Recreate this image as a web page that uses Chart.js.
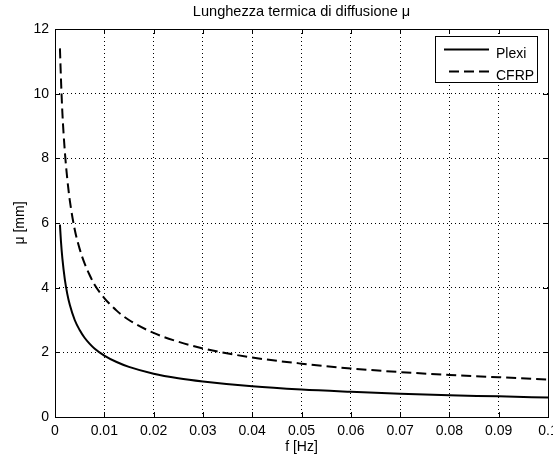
<!DOCTYPE html>
<html><head><meta charset="utf-8">
<script src="https://cdn.jsdelivr.net/npm/chart.js@4/dist/chart.umd.min.js"></script>
<style>html,body{margin:0;padding:0;background:#fff}#wrap{width:553px;height:462px}</style>
</head><body><div id="wrap"><canvas id="c" width="553" height="462"></canvas></div>
<script>
const titleText = 'Lunghezza termica di diffusione μ';
const xLabel = 'f [Hz]';
const yLabel = 'μ [mm]';
const seriesNames = ['Plexi', 'CFRP'];
const freq  = [0.001,0.0012,0.0015,0.002,0.0025,0.003,0.004,0.005,0.006,0.007,0.008,0.01,0.0125,0.015,0.02,0.025,0.03,0.04,0.05,0.06,0.07,0.08,0.09,0.1];
const plexi = [5.95,5.45,4.9,4.25,3.8,3.47,3.0,2.69,2.45,2.27,2.12,1.9,1.7,1.55,1.34,1.2,1.1,0.95,0.85,0.78,0.72,0.67,0.64,0.6];
const cfrp  = [11.4,10.5,9.4,8.2,7.35,6.7,5.8,5.2,4.75,4.4,4.1,3.68,3.29,3.0,2.6,2.33,2.12,1.84,1.65,1.5,1.39,1.3,1.23,1.16];
const xTicks = [0,0.01,0.02,0.03,0.04,0.05,0.06,0.07,0.08,0.09,0.1];
const yTicks = [0,2,4,6,8,10,12];

const FONT = '"Liberation Sans", Arial, sans-serif';
const FS = 14;

const decor = {
  id: 'decor',
  afterDatasetsDraw(chart) {
    const {ctx, chartArea: a, scales: {x, y}} = chart;
    ctx.save();
    ctx.strokeStyle = '#000';
    ctx.lineWidth = 1;
    ctx.strokeRect(Math.round(a.left) + 0.5, Math.round(a.top) + 0.5, Math.round(a.right - a.left), Math.round(a.bottom - a.top));
    ctx.beginPath();
    xTicks.forEach(v => {
      const px = Math.round(x.getPixelForValue(v)) + 0.5;
      ctx.moveTo(px, a.bottom); ctx.lineTo(px, a.bottom - 5);
      ctx.moveTo(px, a.top); ctx.lineTo(px, a.top + 5);
    });
    yTicks.forEach(v => {
      const py = Math.round(y.getPixelForValue(v)) + 0.5;
      ctx.moveTo(a.left, py); ctx.lineTo(a.left + 5, py);
      ctx.moveTo(a.right, py); ctx.lineTo(a.right - 5, py);
    });
    ctx.stroke();
    ctx.restore();
  },
  afterDraw(chart) {
    const {ctx, chartArea: a} = chart;
    ctx.save();
    ctx.fillStyle = '#000';
    ctx.font = '14.6px ' + FONT;
    ctx.textAlign = 'center';
    ctx.textBaseline = 'middle';
    ctx.fillText(titleText, (a.left + a.right) / 2, 12);
    ctx.font = FS + 'px ' + FONT;
    ctx.fillText(xLabel, (a.left + a.right) / 2, 447);
    ctx.save();
    ctx.translate(20, (a.top + a.bottom) / 2);
    ctx.rotate(-Math.PI / 2);
    ctx.fillText(yLabel, 0, 0);
    ctx.restore();
    // legend
    const lx = 435, ly = 36, lw = 102, lh = 46;
    ctx.fillStyle = '#fff';
    ctx.fillRect(lx, ly, lw, lh);
    ctx.strokeStyle = '#000';
    ctx.lineWidth = 1;
    ctx.strokeRect(lx + 0.5, ly + 0.5, lw, lh);
    ctx.lineWidth = 2;
    ctx.beginPath(); ctx.moveTo(444, 49.5); ctx.lineTo(489, 49.5); ctx.stroke();
    ctx.setLineDash([10, 5]);
    ctx.beginPath(); ctx.moveTo(449, 71.5); ctx.lineTo(489, 71.5); ctx.stroke();
    ctx.setLineDash([]);
    ctx.fillStyle = '#000';
    ctx.textAlign = 'left';
    ctx.textBaseline = 'alphabetic';
    ctx.font = FS + 'px ' + FONT;
    ctx.fillText(seriesNames[0], 496, 58);
    ctx.fillText(seriesNames[1], 496, 80);
    ctx.restore();
  }
};

const fmt = v => String(Number(v.toFixed(3)));

new Chart(document.getElementById('c'), {
  type: 'line',
  data: {
    datasets: [
      { label: seriesNames[0], data: freq.map((f, i) => ({x: f, y: plexi[i]})), borderColor: '#000', borderWidth: 2, pointRadius: 0, cubicInterpolationMode: 'monotone', fill: false },
      { label: seriesNames[1], data: freq.map((f, i) => ({x: f, y: cfrp[i]})), borderColor: '#000', borderWidth: 2, borderDash: [10, 5], pointRadius: 0, cubicInterpolationMode: 'monotone', fill: false }
    ]
  },
  options: {
    responsive: false,
    animation: false,
    layout: { padding: { top: 29, right: 5, left: 0, bottom: 0 } },
    plugins: { legend: { display: false }, title: { display: false }, tooltip: { enabled: false } },
    scales: {
      x: {
        type: 'linear', min: 0, max: 0.1,
        afterBuildTicks: s => { s.ticks = xTicks.map(v => ({value: v})); },
        afterFit: s => { s.height = 45; s.paddingLeft = 0; s.paddingRight = 0; },
        ticks: { autoSkip: false, maxRotation: 0, padding: 6, color: '#000', font: { family: FONT, size: FS }, callback: v => fmt(v) },
        grid: { color: '#000', lineWidth: 1, drawTicks: false },
        border: { display: false, dash: [1, 3] }
      },
      y: {
        type: 'linear', min: 0, max: 12,
        afterBuildTicks: s => { s.ticks = yTicks.map(v => ({value: v})); },
        afterFit: s => { s.width = 55; s.paddingTop = 0; s.paddingBottom = 0; },
        ticks: { padding: 6, color: '#000', font: { family: FONT, size: FS }, callback: v => fmt(v) },
        grid: { color: '#000', lineWidth: 1, drawTicks: false },
        border: { display: false, dash: [1, 3] }
      }
    }
  },
  plugins: [decor]
});
</script></body></html>
